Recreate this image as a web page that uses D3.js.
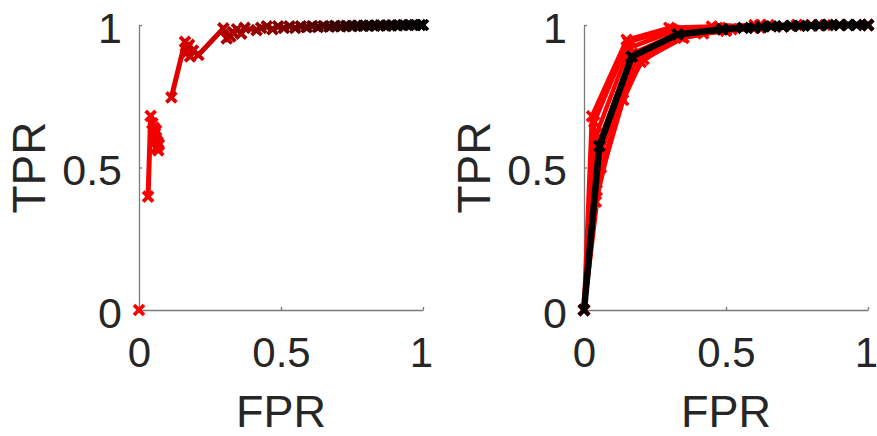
<!DOCTYPE html>
<html>
<head>
<meta charset="utf-8">
<script src="https://cdn.jsdelivr.net/npm/d3@7"></script>
<style>
  body { margin: 0; background: #fff; }
  text { font-family: "Liberation Sans", Arial, sans-serif; fill: #262626; }
</style>
</head>
<body>
<svg id="chart" width="877" height="436"></svg>
<script>
// ROC curves: left = one classifier coloured by threshold, right = folds (red) + mean (black)
var xTicks = [0, 0.5, 1];
var yTicks = [0, 0.5, 1];
var xLabel = "FPR";
var yLabel = "TPR";

// left panel, pieces of the curve (FPR, TPR)
var leftStart = [[0, 0]];
var leftLow = [[0.032, 0.398], [0.041, 0.681], [0.047, 0.655], [0.052, 0.64], [0.056, 0.62],
               [0.06, 0.63], [0.058, 0.60], [0.065, 0.59], [0.062, 0.57], [0.07, 0.58], [0.068, 0.56]];
var leftHigh = [[0.114, 0.746], [0.162, 0.941], [0.168, 0.92], [0.165, 0.90], [0.176, 0.93],
                [0.18, 0.89], [0.19, 0.91], [0.209, 0.895], [0.297, 0.988], [0.309, 0.953],
                [0.322, 0.96], [0.33, 0.975], [0.345, 0.985], [0.36, 0.97], [0.372, 0.99],
                [0.414, 0.982], [0.43, 0.99], [0.45, 0.995], [0.47, 0.985], [0.49, 0.995],
                [0.51, 0.99], [0.53, 0.995], [0.55, 0.99], [0.57, 0.995], [0.59, 0.992],
                [0.61, 0.996], [0.63, 0.993], [0.65, 0.996], [0.67, 0.994], [0.69, 0.997],
                [0.71, 0.995], [0.73, 0.997], [0.75, 0.996], [0.77, 0.998], [0.79, 0.997],
                [0.81, 0.998], [0.83, 0.998], [0.85, 0.999], [0.87, 0.998], [0.89, 0.999],
                [0.91, 0.999], [0.93, 1], [0.95, 1], [0.97, 1], [0.99, 1], [1, 1]];
var leftCurves = [leftStart, leftLow, leftHigh];

// right panel, folds
var fold1 = [[0, 0], [0.028, 0.68], [0.15, 0.948], [0.30, 0.99], [0.45, 0.995], [0.6, 1], [0.75, 1], [0.9, 1], [1, 1]];
var fold2 = [[0, 0], [0.036, 0.66], [0.155, 0.94], [0.31, 0.985], [0.47, 0.99], [0.62, 1], [0.8, 1], [1, 1]];
var fold3 = [[0, 0], [0.045, 0.62], [0.16, 0.92], [0.32, 0.98], [0.48, 0.99], [0.65, 1], [0.85, 1], [1, 1]];
var fold4 = [[0, 0], [0.05, 0.58], [0.17, 0.90], [0.33, 0.97], [0.4, 0.975], [0.49, 0.985], [0.6, 0.99], [1, 1]];
var fold5 = [[0, 0], [0.055, 0.54], [0.175, 0.88], [0.34, 0.96], [0.42, 0.97], [0.5, 0.98], [0.62, 0.99], [0.8, 1], [1, 1]];
var fold6 = [[0, 0], [0.06, 0.50], [0.18, 0.87], [0.35, 0.955], [0.5, 0.985], [0.7, 0.995], [1, 1]];
var fold7 = [[0, 0], [0.045, 0.42], [0.138, 0.737], [0.2, 0.87], [0.34, 0.96], [0.5, 0.98], [0.7, 0.995], [1, 1]];
var fold8 = [[0, 0], [0.042, 0.38], [0.13, 0.75], [0.21, 0.88], [0.35, 0.955], [0.52, 0.985], [0.75, 1], [1, 1]];
var folds = [fold1, fold2, fold3, fold4, fold5, fold6, fold7, fold8];

var meanCurve = [[0, 0], [0.054, 0.575], [0.168, 0.889], [0.33, 0.967], [0.487, 0.985],
                 [0.56, 0.99], [0.6, 0.99], [0.625, 0.993], [0.66, 0.995], [0.7, 0.995],
                 [0.73, 0.997], [0.76, 0.997], [0.8, 0.998], [0.83, 0.999], [0.86, 1],
                 [0.9, 1], [0.93, 1], [0.96, 1], [1, 1]];

var svg = d3.select("#chart");
var marker = "M-5,-5L5,5M-5,5L5,-5";

// threshold colour, red at low FPR to black at high FPR
var thrColor = d3.scaleLinear()
    .domain([0, 0.2, 0.5, 0.8, 1])
    .range(["#ff0000", "#cc0000", "#820000", "#150000", "#000000"]);

function makePanel(x0) {
    var x = d3.scaleLinear().domain([0, 1]).range([x0, x0 + 284]);
    var y = d3.scaleLinear().domain([0, 1]).range([310, 25]);
    var g = svg.append("g");

    g.append("g")
        .attr("transform", "translate(0,310)")
        .call(d3.axisBottom(x).tickValues(xTicks).tickFormat(d3.format("")).tickSizeInner(-3).tickSizeOuter(0).tickPadding(27))
        .call(sel => {
            sel.select(".domain").attr("stroke", "#7a7a7a").attr("stroke-width", 1.3);
            sel.selectAll(".tick line").attr("stroke", "#7a7a7a").attr("stroke-width", 1.3);
            sel.selectAll(".tick text").attr("font-size", 42).attr("fill", "#262626")
                .attr("font-family", "Liberation Sans, Arial, sans-serif")
                .attr("dx", d => d === 1 ? -2 : 0);
        });
    g.append("g")
        .attr("transform", "translate(" + x0 + ",0)")
        .call(d3.axisLeft(y).tickValues(yTicks).tickFormat(d3.format("")).tickSizeInner(-3).tickSizeOuter(0).tickPadding(17))
        .call(sel => {
            sel.select(".domain").attr("stroke", "#7a7a7a").attr("stroke-width", 1.3);
            sel.selectAll(".tick line").attr("stroke", "#7a7a7a").attr("stroke-width", 1.3);
            sel.selectAll(".tick text").attr("font-size", 43).attr("fill", "#262626")
                .attr("font-family", "Liberation Sans, Arial, sans-serif")
                .attr("dy", "0.4em");
        });

    g.append("text")
        .attr("x", x(0.5)).attr("y", 427)
        .attr("text-anchor", "middle")
        .attr("font-size", 45)
        .text(xLabel);
    g.append("text")
        .attr("transform", "translate(" + (x0 - 94) + "," + y(0.5) + ") rotate(-90)")
        .attr("text-anchor", "middle")
        .attr("font-size", 46)
        .text(yLabel);

    return {g: g, x: x, y: y};
}

// left panel
var L = makePanel(139);
leftCurves.forEach(function (curve) {
    var segs = d3.pairs(curve);
    L.g.append("g").selectAll("line")
        .data(segs)
        .join("line")
        .attr("x1", d => L.x(d[0][0])).attr("y1", d => L.y(d[0][1]))
        .attr("x2", d => L.x(d[1][0])).attr("y2", d => L.y(d[1][1]))
        .attr("stroke", d => thrColor(d[0][0]))
        .attr("stroke-width", 5)
        .attr("stroke-linecap", "round");
});
leftCurves.forEach(function (curve) {
    L.g.append("g").selectAll("path")
        .data(curve)
        .join("path")
        .attr("d", marker)
        .attr("transform", d => "translate(" + L.x(d[0]) + "," + L.y(d[1]) + ")")
        .attr("stroke", d => thrColor(d[0]))
        .attr("stroke-width", 3.8)
        .attr("fill", "none");
});

// right panel
var R = makePanel(584);
var line = d3.line().x(d => R.x(d[0])).y(d => R.y(d[1]));

folds.forEach(function (curve) {
    R.g.append("path")
        .attr("d", line(curve))
        .attr("fill", "none")
        .attr("stroke", "#ff0000")
        .attr("stroke-width", 4.5)
        .attr("stroke-linejoin", "round");
    R.g.append("g").selectAll("path")
        .data(curve)
        .join("path")
        .attr("d", marker)
        .attr("transform", d => "translate(" + R.x(d[0]) + "," + R.y(d[1]) + ")")
        .attr("stroke", "#ff0000")
        .attr("stroke-width", 3.6)
        .attr("fill", "none");
});

R.g.append("path")
    .attr("d", line(meanCurve))
    .attr("fill", "none")
    .attr("stroke", "#000")
    .attr("stroke-width", 6.5)
    .attr("stroke-linejoin", "round");
R.g.append("g").selectAll("path")
    .data(meanCurve)
    .join("path")
    .attr("d", marker)
    .attr("transform", d => "translate(" + R.x(d[0]) + "," + R.y(d[1]) + ")")
    .attr("stroke", "#000")
    .attr("stroke-width", 4)
    .attr("fill", "none");
</script>
</body>
</html>
